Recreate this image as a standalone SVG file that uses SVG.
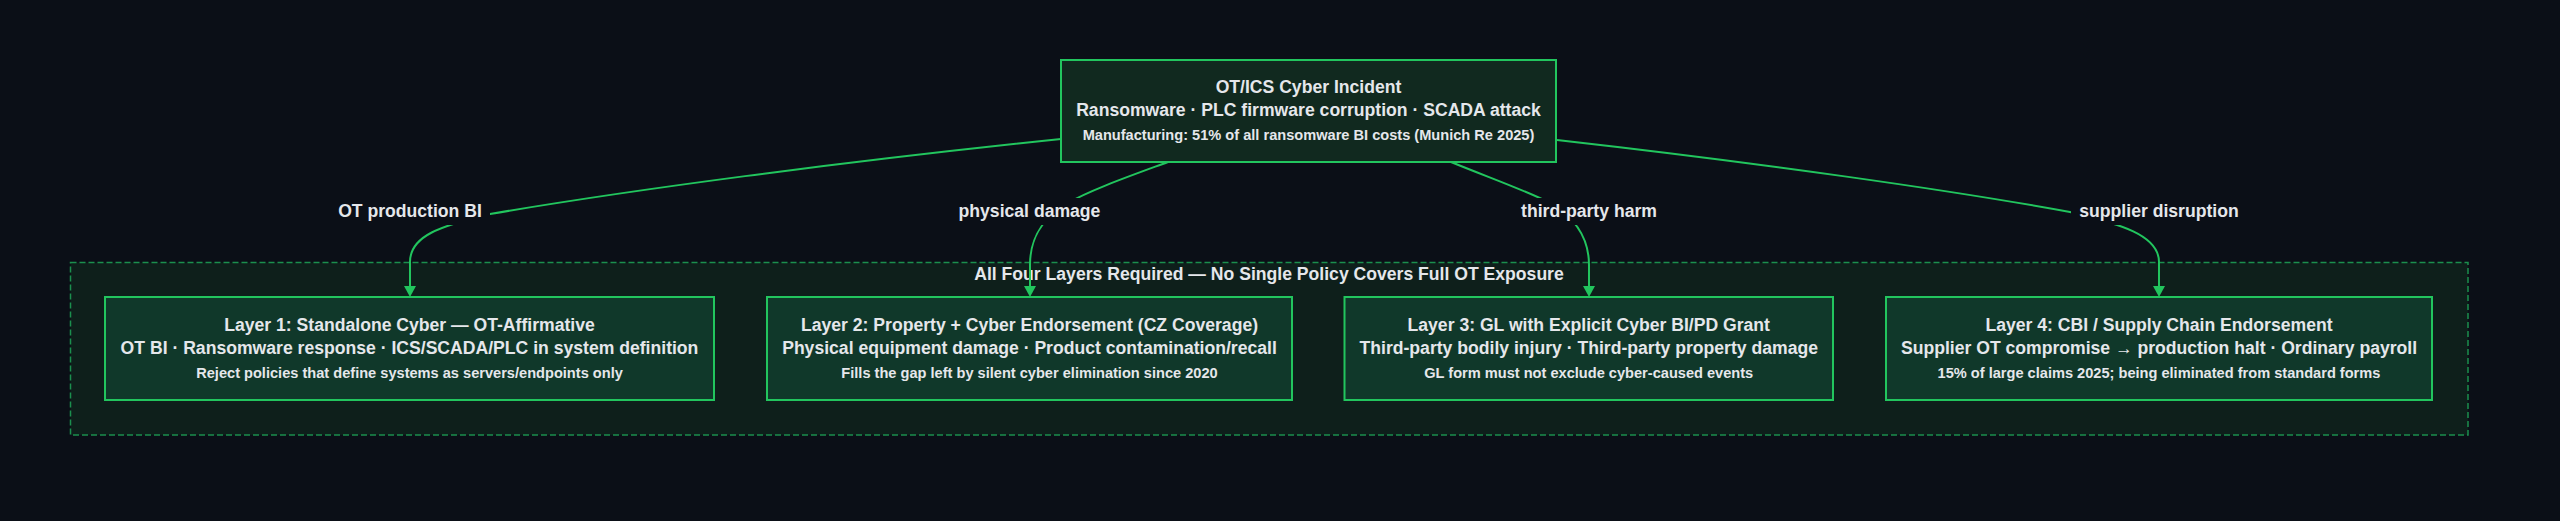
<svg xmlns="http://www.w3.org/2000/svg" width="2560" height="521" viewBox="0 0 2560 521">
<style>
  .bg { fill: #0b0f17; }
  .cluster { fill: #0e1f1b; stroke: #1b8f4e; stroke-width: 1.5; stroke-dasharray: 6 3; }
  .top rect { fill: #11291f; stroke: #22c55e; stroke-width: 2; }
  .layer rect { fill: #10382a; stroke: #22c55e; stroke-width: 2; }
  text { font-family: "Liberation Sans", Arial, sans-serif; font-weight: 700; fill: #e5e7eb; text-anchor: middle; }
  .big { font-size: 17.6px; }
  .small { font-size: 14.6px; }
  .edge { fill: none; stroke: #22c55e; stroke-width: 2; }
  .lblbg { fill: #0b0f17; }
</style>
<defs>
  <marker id="arrow" markerUnits="userSpaceOnUse" markerWidth="12" markerHeight="12" refX="0" refY="6" orient="auto">
    <path d="M0,0 L11,6 L0,12 z" fill="#22c55e"/>
  </marker>
</defs>
<rect class="bg" x="0" y="0" width="2560" height="521"/>

<g id="cluster-layers">
  <rect class="cluster" x="70.5" y="262.5" width="2397.5" height="172.5"/>
  <text class="big" x="1269" y="279.5">All Four Layers Required — No Single Policy Covers Full OT Exposure</text>
</g>

<g id="node-incident" class="top">
  <rect x="1061" y="60" width="495" height="102"/>
  <text class="big" x="1308.5" y="92.7">OT/ICS Cyber Incident</text>
  <text class="big" x="1308.5" y="115.7">Ransomware · PLC firmware corruption · SCADA attack</text>
  <text class="small" x="1308.5" y="139.5">Manufacturing: 51% of all ransomware BI costs (Munich Re 2025)</text>
</g>

<g id="node-layer1" class="layer">
  <rect x="105" y="297" width="609" height="103"/>
  <text class="big" x="409.5" y="331">Layer 1: Standalone Cyber — OT-Affirmative</text>
  <text class="big" x="409.5" y="354">OT BI · Ransomware response · ICS/SCADA/PLC in system definition</text>
  <text class="small" x="409.5" y="377.5">Reject policies that define systems as servers/endpoints only</text>
</g>

<g id="node-layer2" class="layer">
  <rect x="767" y="297" width="525" height="103"/>
  <text class="big" x="1029.5" y="331">Layer 2: Property + Cyber Endorsement (CZ Coverage)</text>
  <text class="big" x="1029.5" y="354">Physical equipment damage · Product contamination/recall</text>
  <text class="small" x="1029.5" y="377.5">Fills the gap left by silent cyber elimination since 2020</text>
</g>

<g id="node-layer3" class="layer">
  <rect x="1344.5" y="297" width="488.5" height="103"/>
  <text class="big" x="1588.75" y="331">Layer 3: GL with Explicit Cyber BI/PD Grant</text>
  <text class="big" x="1588.75" y="354">Third-party bodily injury · Third-party property damage</text>
  <text class="small" x="1588.75" y="377.5">GL form must not exclude cyber-caused events</text>
</g>

<g id="node-layer4" class="layer">
  <rect x="1886" y="297" width="546" height="103"/>
  <text class="big" x="2159" y="331">Layer 4: CBI / Supply Chain Endorsement</text>
  <text class="big" x="2159" y="354">Supplier OT compromise → production halt · Ordinary payroll</text>
  <text class="small" x="2159" y="377.5">15% of large claims 2025; being eliminated from standard forms</text>
</g>

<g id="connectors">
  <path class="edge" marker-end="url(#arrow)" d="M1061,139 C840,162 630,190 490,214 C440,226 410,236 410,262 L410,286"/>
  <path class="edge" marker-end="url(#arrow)" d="M1168,162 C1130,176 1090,190 1066,204 C1040,220 1030,240 1030,265 L1030,286"/>
  <path class="edge" marker-end="url(#arrow)" d="M1451,162 C1490,178 1530,192 1552,204 C1578,220 1589,240 1589,265 L1589,286"/>
  <path class="edge" marker-end="url(#arrow)" d="M1557,140 C1760,163 1950,190 2070,212 C2120,224 2159,235 2159,262 L2159,286"/>

  <g id="label-ot-bi">
    <rect class="lblbg" x="330" y="198" width="160" height="27"/>
    <text class="big" x="410" y="217.3">OT production BI</text>
  </g>
  <g id="label-physical">
    <rect class="lblbg" x="950" y="198" width="159" height="27"/>
    <text class="big" x="1029.5" y="217.3">physical damage</text>
  </g>
  <g id="label-thirdparty">
    <rect class="lblbg" x="1512" y="198" width="154" height="27"/>
    <text class="big" x="1589" y="217.3">third-party harm</text>
  </g>
  <g id="label-supplier">
    <rect class="lblbg" x="2071" y="198" width="176" height="27"/>
    <text class="big" x="2159" y="217.3">supplier disruption</text>
  </g>
</g>
</svg>
